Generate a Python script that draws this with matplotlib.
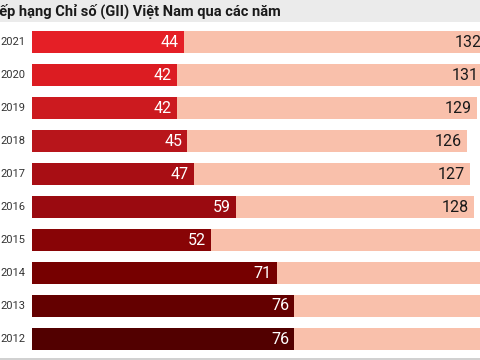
import matplotlib.pyplot as plt
from matplotlib.lines import Line2D
from matplotlib.patches import Rectangle

years = ["2012", "2013", "2014", "2015", "2016", "2017", "2018", "2019", "2020", "2021"]
vn_rank = [76, 76, 71, 52, 59, 47, 45, 42, 42, 44]
total_countries = [141, 142, 143, 141, 128, 127, 126, 129, 131, 132]
bar_colors = ["#520000", "#640000", "#760000", "#880406", "#9a0a10",
              "#a80e14", "#b8151b", "#cc1a1f", "#dc1c22", "#e51f26"]
pink = "#f9c0ab"
title = "Xếp hạng Chỉ số (GII) Việt Nam qua các năm"

fonts = ["Roboto", "DejaVu Sans"]

fig = plt.figure(figsize=(4.8, 3.6), dpi=100)
fig.patch.set_facecolor("white")

# gray title band
fig.add_artist(Rectangle((0, 338 / 360), 1, 22 / 360, transform=fig.transFigure,
                         facecolor="#ebebeb", edgecolor="none", zorder=0))
fig.text(-10 / 480, 349 / 360, title, ha="left", va="center", fontsize=10.5,
         fontweight="bold", color="#1a1a1a", family=fonts)

ax = fig.add_axes([32 / 480, 4.5 / 360, 448 / 480, 330 / 360])
ax.set_xlim(0, 448 / 3.45)
ax.set_ylim(-0.5, 9.5)
ax.axis("off")

pos = list(range(len(years)))
ax.barh(pos, total_countries, height=0.67, color=pink, zorder=1)
ax.barh(pos, vn_rank, height=0.67, color=bar_colors, zorder=2)

xmax = ax.get_xlim()[1]
for y, yr, r, t in zip(pos, years, vn_rank, total_countries):
    ax.text(-2, y, yr, ha="right", va="center", fontsize=8, color="#333333",
            family=fonts)
    ax.text(r - 1.5, y, str(r), ha="right", va="center", fontsize=11.5,
            color="white", family=fonts, zorder=3)
    # totals past the right edge are off the visible crop
    if t - 6 < xmax:
        ax.text(t - 1.5, y, str(t), ha="right", va="center", fontsize=11.5,
                color="#1a1a1a", family=fonts, zorder=3, clip_on=False)

fig.add_artist(Line2D([0, 1], [0.8 / 360, 0.8 / 360], transform=fig.transFigure,
                      color="#c8c8c8", linewidth=1.2))

fig.savefig("out.png", dpi=100)
